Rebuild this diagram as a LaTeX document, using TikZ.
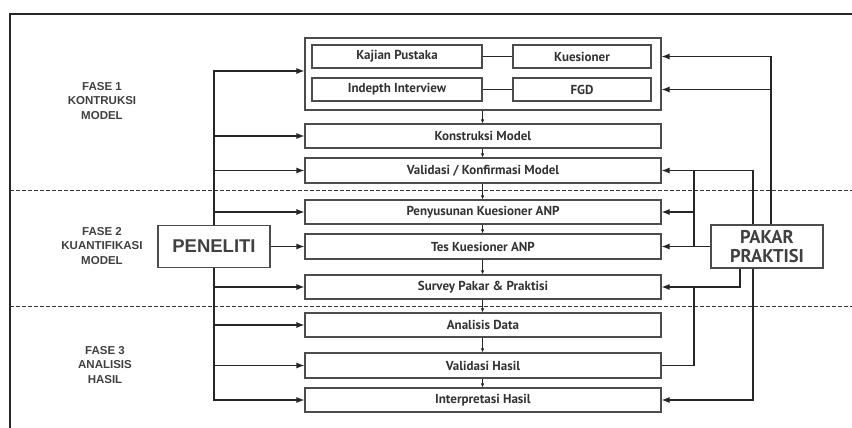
\documentclass[tikz,border=0pt]{standalone}
\usepackage{fontspec}
\setmainfont{Liberation Sans}
\newfontfamily\ptsans{PT Sans}
\usetikzlibrary{arrows.meta,calc}

\begin{document}
\begin{tikzpicture}[x=1pt,y=-1pt,
    box/.style={draw=black!70,line width=1.1pt,minimum width=356pt,minimum height=24pt,inner sep=0pt,font=\ptsans\bfseries\fontsize{13}{13}\selectfont,text=black!80},
    sub/.style={box,minimum height=23pt},
    who/.style={draw=black!70,line width=1.1pt,minimum width=112pt,minimum height=42pt,inner sep=0pt,text=black!75},
    fase/.style={align=center,font=\bfseries\fontsize{11.5}{14.5}\selectfont,text=black!75},
    link/.style={draw=black!85,line width=1.1pt},
    arr/.style={link,-{Latex[length=8pt,width=6pt]}},
    down/.style={link,line width=0.8pt,-{Latex[length=4pt,width=3.5pt]}}]

     \useasboundingbox (0,0) rectangle (852,428);

     % frame and phase separators
     \draw[line width=2.4pt,black!85] (10,428) -- (10,14) -- (852,14);
     \draw[dashed,black!80,line width=0.9pt,dash pattern=on 4pt off 2pt] (10,190) -- (852,190);
     \draw[dashed,black!80,line width=0.9pt,dash pattern=on 4pt off 2pt] (10,306) -- (852,306);

     \node[fase] (f1) at (102,101) {FASE 1\\KONTRUKSI\\MODEL};
     \node[fase] (f2) at (102,246) {FASE 2\\KUANTIFIKASI\\MODEL};
     \node[fase] (f3) at (105,365) {FASE 3\\ANALISIS\\HASIL};

     \node[box,minimum height=72pt] (grp) at (483,74) {};
     \node[sub,minimum width=170pt] (kp) at (397,56.5) {Kajian Pustaka};
     \node[sub,minimum width=138pt] (kue) at (582,56.5) {Kuesioner};
     \node[sub,minimum width=170pt] (ii) at (397,89.5) {Indepth Interview};
     \node[sub,minimum width=138pt] (fgd) at (582,89.5) {FGD};

     \node[box] (km) at (483,136) {Konstruksi Model};
     \node[box,minimum height=25pt] (vm) at (483,170.5) {Validasi / Konfirmasi Model};
     \node[box] (pk) at (483,212) {Penyusunan Kuesioner ANP};
     \node[box,minimum height=25pt] (tk) at (483,246.5) {Tes Kuesioner ANP};
     \node[box] (sp) at (483,287) {Survey Pakar \& Praktisi};
     \node[box] (ad) at (483,325) {Analisis Data};
     \node[box,minimum height=25pt] (vh) at (483,365.5) {Validasi Hasil};
     \node[box] (ih) at (483,400) {Interpretasi Hasil};

     \node[who,font=\bfseries\fontsize{18.5}{18.5}\selectfont] (pen) at (214,246.5) {PENELITI};
     \node[who,minimum height=43pt,align=center,font=\ptsans\bfseries\fontsize{18.5}{19}\selectfont] (pak) at (767,246.5) {PAKAR\\PRAKTISI};

     \draw[link] (kp) -- (kue);
     \draw[link] (ii) -- (fgd);

     \draw[down] (grp.south -| kp.east) -- (km.north -| kp.east);
     \draw[down] (km.south -| kp.east) -- (vm.north -| kp.east);
     \draw[down] (vm.south -| kp.east) -- (pk.north -| kp.east);
     \draw[down] (pk.south -| kp.east) -- (tk.north -| kp.east);
     \draw[down] (tk.south -| kp.east) -- (sp.north -| kp.east);
     \draw[down] (sp.south -| kp.east) -- (ad.north -| kp.east);
     \draw[down] (ad.south -| kp.east) -- (vh.north -| kp.east);
     \draw[down] (vh.south -| kp.east) -- (ih.north -| kp.east);

     \draw[arr] (pen.north) |- ([yshift=3pt]grp.west);
     \draw[arr] (pen.north) |- (km.west);
     \draw[arr] (pen.north) |- (vm.west);
     \draw[arr] (pen.north) |- (pk.west);
     \draw[arr] (pen.east) -- (tk.west);
     \draw[arr] (pen.south) |- (sp.west);
     \draw[arr] (pen.south) |- (ad.west);
     \draw[arr] (pen.south) |- (vh.west);
     \draw[arr] (pen.south) |- (ih.west);

     \coordinate (j1) at (694,170.5);
     \coordinate (j2) at (694,287);

     \draw[arr] ([xshift=4pt]pak.north) |- (grp.east |- kue.east);
     \draw[arr] ([xshift=4pt]pak.north) |- (grp.east |- fgd.east);
     \draw[arr] ([xshift=-14pt]pak.north) |- (vm.east);
     \draw[link] (j1) -- (j1 |- tk.east);
     \draw[arr] (j1 |- pk.east) -- (pk.east);
     \draw[arr] (pak.west) -- (tk.east);
     \draw[arr] ([xshift=-27pt]pak.south) |- (sp.east);
     \draw[link] (vh.east) -| (j2);
     \draw[arr] ([xshift=-14pt]pak.south) |- (ih.east);

\end{tikzpicture}
\end{document}
